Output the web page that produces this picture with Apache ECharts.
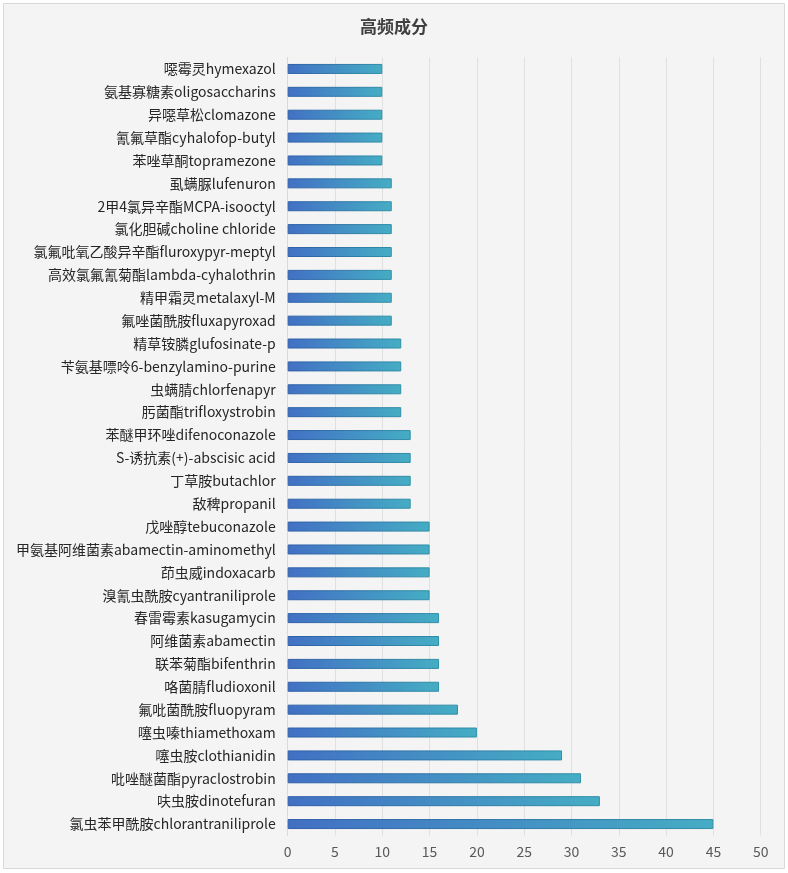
<!DOCTYPE html>
<html>
<head>
<meta charset="utf-8">
<script src="https://cdn.jsdelivr.net/npm/echarts@6/dist/echarts.min.js"></script>
<style>
html,body{margin:0;padding:0;background:#fff;}
#c{width:788px;height:873px;}
</style>
</head>
<body>
<div id="c"></div>
<script>
const title = '高频成分';
const categories = [
  '噁霉灵hymexazol',
  '氨基寡糖素oligosaccharins',
  '异噁草松clomazone',
  '氰氟草酯cyhalofop-butyl',
  '苯唑草酮topramezone',
  '虱螨脲lufenuron',
  '2甲4氯异辛酯MCPA-isooctyl',
  '氯化胆碱choline chloride',
  '氯氟吡氧乙酸异辛酯fluroxypyr-meptyl',
  '高效氯氟氰菊酯lambda-cyhalothrin',
  '精甲霜灵metalaxyl-M',
  '氟唑菌酰胺fluxapyroxad',
  '精草铵膦glufosinate-p',
  '苄氨基嘌呤6-benzylamino-purine',
  '虫螨腈chlorfenapyr',
  '肟菌酯trifloxystrobin',
  '苯醚甲环唑difenoconazole',
  'S-诱抗素(+)-abscisic acid',
  '丁草胺butachlor',
  '敌稗propanil',
  '戊唑醇tebuconazole',
  '甲氨基阿维菌素abamectin-aminomethyl',
  '茚虫威indoxacarb',
  '溴氰虫酰胺cyantraniliprole',
  '春雷霉素kasugamycin',
  '阿维菌素abamectin',
  '联苯菊酯bifenthrin',
  '咯菌腈fludioxonil',
  '氟吡菌酰胺fluopyram',
  '噻虫嗪thiamethoxam',
  '噻虫胺clothianidin',
  '吡唑醚菌酯pyraclostrobin',
  '呋虫胺dinotefuran',
  '氯虫苯甲酰胺chlorantraniliprole'
];
const values = [10,10,10,10,10,11,11,11,11,11,11,11,12,12,12,12,13,13,13,13,15,15,15,15,16,16,16,16,18,20,29,31,33,45];
const xMin = 0, xMax = 50, xStep = 5;

const chart = echarts.init(document.getElementById('c'), null, {renderer:'canvas'});
const grad = (a,b) => new echarts.graphic.LinearGradient(0,0,1,0,[{offset:0,color:a},{offset:1,color:b}]);
chart.setOption({
  animation:false,
  backgroundColor:'#fff',
  graphic:[{type:'rect', z:-10, silent:true, shape:{x:3.5,y:3.5,width:781,height:865},
    style:{fill:'#f4f4f4', stroke:'#d9d9d9', lineWidth:1}}],
  title:{text:title, left:'center', top:13,
    textStyle:{fontFamily:'Noto Sans CJK SC', fontSize:17, fontWeight:'bold', color:'#404040'}},
  grid:{left:287.7, right:27.3, top:57.5, bottom:37.5, containLabel:false},
  xAxis:{type:'value', min:xMin, max:xMax, interval:xStep,
    axisLine:{show:false}, axisTick:{show:false},
    axisLabel:{color:'#595959', fontSize:14, fontFamily:'Noto Sans CJK SC', margin:9},
    splitLine:{show:true, lineStyle:{color:'#e0e0e0', width:1}}},
  yAxis:{type:'category', data:categories, inverse:true,
    axisLine:{show:true, lineStyle:{color:'#d9d9d9'}}, axisTick:{show:false},
    axisLabel:{color:'#262626', fontSize:14, fontFamily:'Noto Sans CJK SC', margin:12}},
  series:[{type:'bar', data:values, barWidth:10,
    itemStyle:{color:grad('#4270c4','#45adc4'), borderColor:grad('#2f5ea8','#2f8fa6'), borderWidth:1}}]
});
</script>
</body>
</html>
